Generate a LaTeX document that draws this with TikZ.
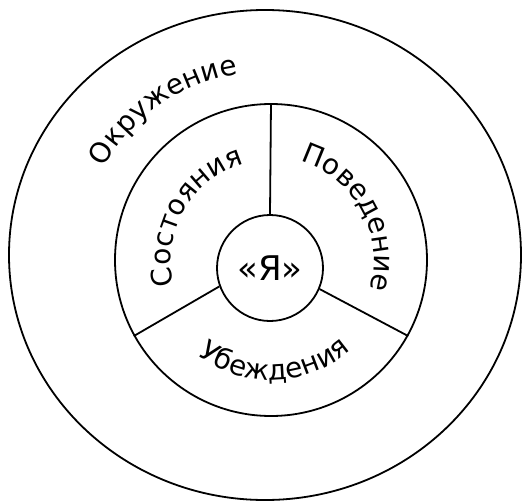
\documentclass[tikz,border=0pt]{standalone}
\usepackage{fontspec}
\setmainfont{DejaVu Sans}
\usetikzlibrary{shapes.geometric,decorations.text}
\newcommand\ringfont{\fontsize{28}{32}\selectfont}

\begin{document}
\begin{tikzpicture}[x=1pt,y=1pt,line width=1.8pt,
        ring/.style={draw,circle,inner sep=0pt},
        curved/.style={decorate,decoration={text along path,text align=center,text={|\ringfont|#1}}}]
    \useasboundingbox (-271,-239) rectangle (259,262);

        % Rings
        \node[draw,ellipse,inner sep=0pt,minimum width=512pt,minimum height=490pt] (env) at (-6,7) {};
        \node[ring,minimum size=312pt] (mid) at (0,2) {};
        \node[ring,minimum size=106pt,font=\fontsize{34}{38}\selectfont] (self) at (-1,-6) {«Я»};

        \draw (self.90) -- (mid.90);
        \draw (self.200) -- (mid.209);
        \draw (self.337) -- (mid.331);

    % Labels
    \path[curved=Окружение] (env.center) ++(165:183) arc[start angle=165,end angle=85,radius=183];
    \path[curved=Состояния] (mid.center) ++(200:100) arc[start angle=200,end angle=100,radius=100];
    \path[curved=Поведение] (mid.center) ++(78:103) arc[start angle=78,end angle=-21,radius=103];
    \path[curved=Убеждения] (mid.center) ++(222:120) arc[start angle=222,end angle=322,radius=120];
    \end{tikzpicture}
\end{document}
